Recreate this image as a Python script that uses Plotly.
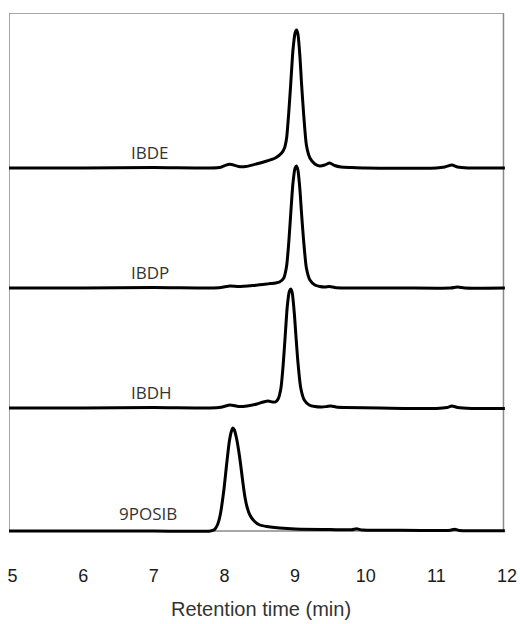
import plotly.graph_objects as go

# Chromatogram traces (time in min, detector signal in arbitrary units)
ibde_t = [4.95, 6.0, 7.0, 7.8, 7.95, 8.05, 8.1, 8.2, 8.3, 8.45, 8.6, 8.72, 8.81, 8.85, 8.88, 8.91, 8.94,
          8.97, 9.0, 9.02, 9.04, 9.07, 9.09, 9.12, 9.16, 9.21, 9.28, 9.35, 9.42, 9.49, 9.56, 9.65, 9.8,
          10.0, 11.0, 11.12, 11.22, 11.3, 11.45, 11.97]
ibde_y = [0, 0, 0.5, 0, 0.8, 3.5, 3.5, 1.5, 1.5, 4, 7, 10, 15, 20, 30, 55, 86,
          118, 135, 138, 134, 110, 86, 55, 23, 10, 4, 2, 3, 5, 2.5, 1, 0.5,
          0, 0, 1, 3, 1, 0, 0]

ibdp_t = [4.95, 6.0, 7.0, 7.8, 7.95, 8.08, 8.2, 8.4, 8.6, 8.72, 8.78, 8.84, 8.88, 8.91, 8.94, 8.97,
          9.0, 9.02, 9.04, 9.07, 9.09, 9.12, 9.16, 9.21, 9.28, 9.35, 9.42, 9.49, 9.56, 9.7, 10.5,
          11.2, 11.3, 11.4, 11.97]
ibdp_y = [0, 0, 0.5, 0, 0.5, 2, 1.5, 2.5, 4, 5, 6, 10, 22, 45, 76, 105,
          120, 122, 118, 97, 76, 48, 20, 8, 3, 1.5, 1, 1.5, 0.5, 0, 0,
          0, 1, 0, 0]

ibdh_t = [4.95, 6.0, 7.0, 7.8, 7.95, 8.08, 8.2, 8.32, 8.46, 8.55, 8.62, 8.68, 8.72, 8.76, 8.8, 8.83,
          8.86, 8.89, 8.92, 8.94, 8.96, 8.99, 9.01, 9.04, 9.08, 9.13, 9.2, 9.28, 9.38, 9.45, 9.51, 9.58,
          9.7, 10.2, 11.0, 11.15, 11.22, 11.3, 11.5, 11.97]
ibdh_y = [0, 0, 0.5, 0, 0.8, 3, 1.5, 2, 4, 6, 7, 6, 6, 9, 20, 42,
          72, 102, 117, 119, 115, 94, 74, 46, 20, 8, 3, 1.5, 1, 1.5, 2, 1,
          0.5, 0, -0.5, 0.5, 2, 0.5, -0.5, -0.5]

posib_t = [4.95, 6.0, 7.0, 7.8, 7.86, 7.9, 7.94, 7.99, 8.03, 8.07, 8.1, 8.12, 8.14, 8.17, 8.2,
           8.23, 8.26, 8.29, 8.32, 8.36, 8.42, 8.5, 8.6, 8.78, 9.0, 9.5, 9.8, 9.87, 9.95, 10.5,
           11.1, 11.2, 11.26, 11.33, 11.5, 11.97]
posib_y = [0, 0, 0, 0, 1.5, 6, 16, 40, 66, 90, 100, 103, 101, 93, 81,
           66, 49, 34, 24, 16, 10, 6, 4.5, 3, 2, 1.5, 1.2, 2.2, 1, 0.8,
           0.5, 0.8, 1.8, 0.5, 0.3, 0.2]

names = ["IBDE", "IBDP", "IBDH", "9POSIB"]
times = [ibde_t, ibdp_t, ibdh_t, posib_t]
signals = [ibde_y, ibdp_y, ibdh_y, posib_y]

# stacking offsets (layout, not data)
offsets = [363, 243, 123, 0]
label_x = [6.94, 6.94, 6.97, 6.92]
label_dy = [16, 16, 16, 18]

tick_vals = [5, 6, 7, 8, 9, 10, 11, 12]
tick_text = ["5", "6", "7", "8", "9", "10", "11", "12"]

X0, X1 = 4.95, 12.0
BOX_X1 = 11.95
Y0, Y1 = -5, 518

fig = go.Figure()
for n, t, s, off in zip(names, times, signals, offsets):
    fig.add_trace(go.Scatter(
        x=t, y=[v + off for v in s], mode="lines", name=n,
        line=dict(color="black", width=3, shape="spline", smoothing=0.6),
        hoverinfo="skip", showlegend=False,
    ))

shapes = [dict(type="rect", xref="x", yref="y", x0=X0, x1=BOX_X1, y0=0, y1=Y1,
               line=dict(color="#8a8a8a", width=1.5), layer="below")]

annotations = []
for n, lx, off, dy in zip(names, label_x, offsets, label_dy):
    annotations.append(dict(x=lx, y=off + dy, xref="x", yref="y", text=n, showarrow=False,
                            font=dict(family="Open Sans", size=17, color="#333333"),
                            xanchor="center", yanchor="middle"))
annotations.append(dict(x=0.507, y=-0.1395, xref="paper", yref="paper",
                        text="Retention time (min)", showarrow=False,
                        font=dict(family="Liberation Sans", size=20, color="#333333"),
                        xanchor="center", yanchor="middle"))

fig.update_layout(
    width=520, height=624,
    margin=dict(l=9, r=12.5, t=13, b=88, autoexpand=False),
    paper_bgcolor="white", plot_bgcolor="white",
    shapes=shapes, annotations=annotations,
    xaxis=dict(range=[X0, X1], tickvals=tick_vals, ticktext=tick_text, showgrid=False,
               zeroline=False, showline=False, ticks="", ticklabelstandoff=27, automargin=False,
               tickfont=dict(family="Liberation Sans", size=18, color="#1a1a1a")),
    yaxis=dict(range=[Y0, Y1], showgrid=False, zeroline=False, showline=False,
               showticklabels=False, ticks="", automargin=False),
)

fig.write_html("out.html")
